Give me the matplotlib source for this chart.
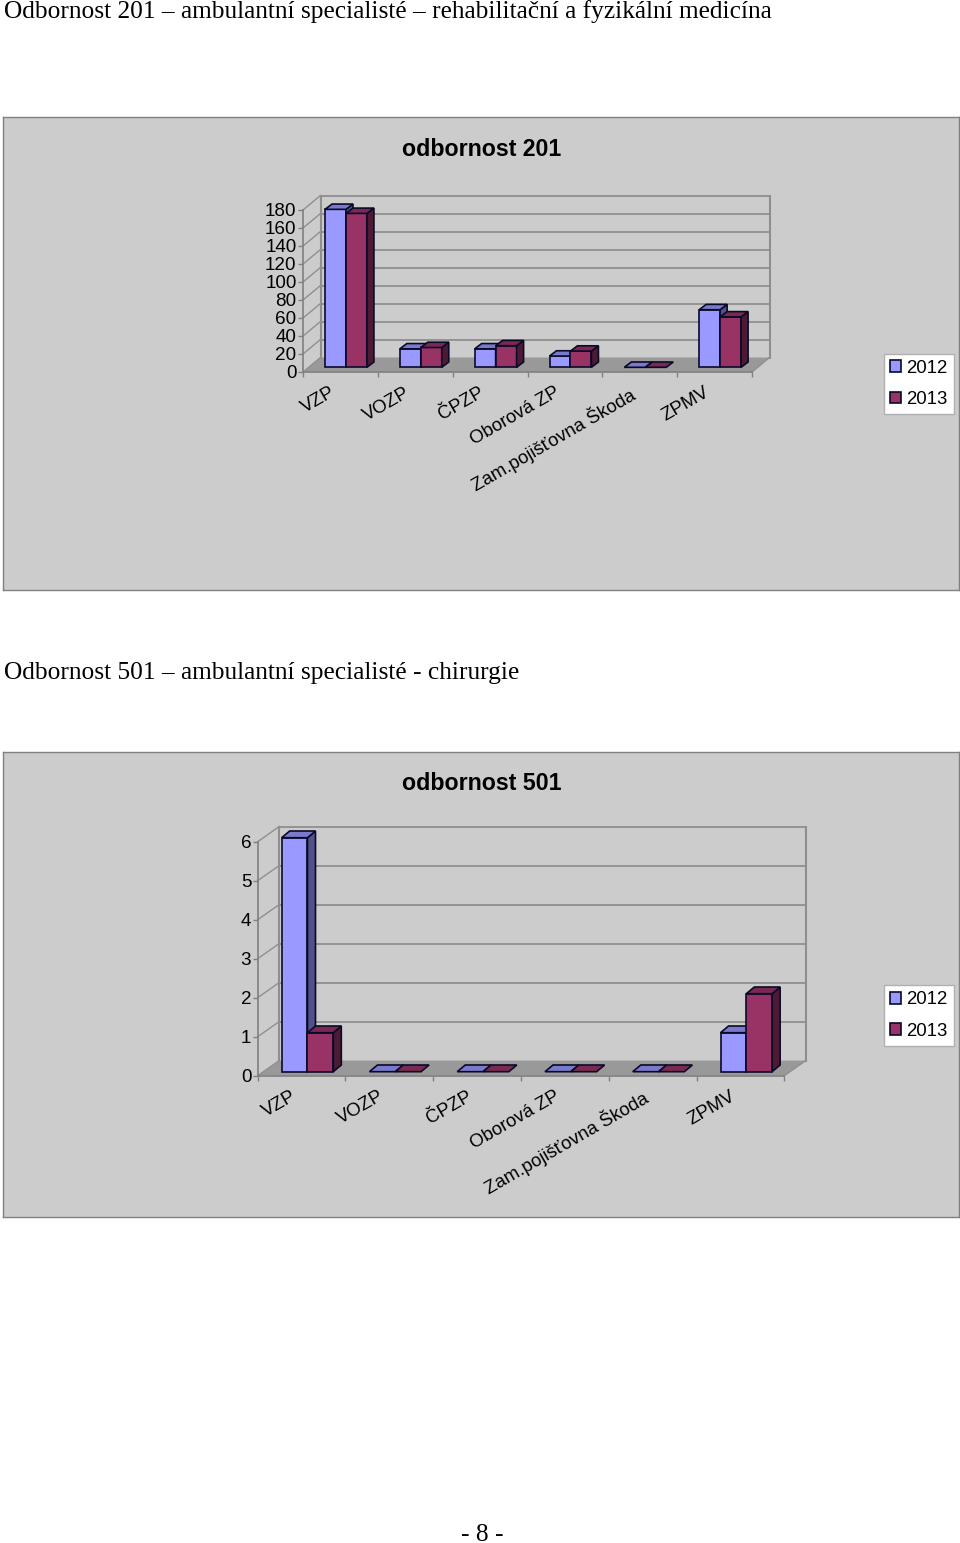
import matplotlib
matplotlib.use('Agg')
import matplotlib.pyplot as plt
from matplotlib.patches import Polygon, Patch

W, H = 960, 1543

categories = ['VZP', 'VOZP', 'ČPZP', 'Oborová ZP', 'Zam.pojišťovna Škoda', 'ZPMV']
series_names = ['2012', '2013']

values_201_2012 = [175.5, 20.5, 20.5, 12.5, 0, 64]
values_201_2013 = [171, 22, 24, 18, 0, 56]
ticks_201 = [0, 20, 40, 60, 80, 100, 120, 140, 160, 180]

values_501_2012 = [6, 0, 0, 0, 0, 1]
values_501_2013 = [1, 0, 0, 0, 0, 2]
ticks_501 = [0, 1, 2, 3, 4, 5, 6]

front_cols = ['#9999ff', '#993366']
top_cols = ['#7a7acc', '#7a2952']
side_cols = ['#52528a', '#4d1a33']
edge_col = '#0a0a28'
line_col = '#8f8f8f'
bg_col = '#cccccc'

plt.rcParams['font.family'] = ['Liberation Sans', 'DejaVu Sans']


def box(fig, left, top, right, bottom, **kw):
    # pixel box (from top left of the page) to figure axes
    return fig.add_axes([left / W, 1 - bottom / H, (right - left) / W, (bottom - top) / H], **kw)


def chart(fig, panel, plot, title, title_y, vals, yticks, back, bar, legend_box, label_xy):
    pn = box(fig, *panel)
    pn.set_facecolor(bg_col)
    pn.set_xticks([])
    pn.set_yticks([])
    for s in pn.spines.values():
        s.set_color('#808080')
        s.set_linewidth(1)
    pn.text((482 - panel[0]) / (panel[2] - panel[0]), 1 - (title_y - panel[1]) / (panel[3] - panel[1]), title,
            transform=pn.transAxes, ha='center', va='center', fontsize=16.7, fontweight='bold', color='black')

    ax = box(fig, *plot)
    ax.patch.set_alpha(0)
    n = len(categories)
    ax.set_xlim(0, n)
    ax.set_ylim(0, yticks[-1])
    px_x = (plot[2] - plot[0]) / n
    px_y = (plot[3] - plot[1]) / yticks[-1]

    def at(x, v, dx, dy):
        return (x + dx / px_x, v + dy / px_y)

    bdx, bdy = back
    # floor
    ax.add_patch(Polygon([at(0, 0, 0, 0), at(n, 0, 0, 0), at(n, 0, bdx, bdy), at(0, 0, bdx, bdy)],
                         closed=True, fc='#999999', ec='none', zorder=1, clip_on=False))
    # walls and grid
    for t in yticks:
        x0, y0 = at(0, t, bdx, bdy)
        x1, y1 = at(n, t, bdx, bdy)
        ax.plot([0, x0], [t, y0], color=line_col, lw=1, zorder=1, clip_on=False)
        if t > 0:
            ax.plot([x0, x1], [y0, y1], color=line_col, lw=1.3, zorder=1, clip_on=False)
    xb0, yb0 = at(0, 0, bdx, bdy)
    xb1, yb1 = at(0, yticks[-1], bdx, bdy)
    ax.plot([xb0, xb1], [yb0, yb1], color=line_col, lw=1.5, zorder=1, clip_on=False)
    xb0, yb0 = at(n, 0, bdx, bdy)
    xb1, yb1 = at(n, yticks[-1], bdx, bdy)
    ax.plot([xb0, xb1], [yb0, yb1], color=line_col, lw=1.5, zorder=1, clip_on=False)
    ax.plot([n, xb0], [0, yb0], color=line_col, lw=1, zorder=1, clip_on=False)

    # bars
    off_x, off_y, dep_x, dep_y, bw, gap = bar
    for k, series in enumerate(vals):
        z = 3 + k
        for i, v in enumerate(series):
            x0, base = at(i + gap + k * bw, 0, off_x, off_y)
            x1 = x0 + bw
            top = base + v
            if v > 0:
                ax.bar(x0, v, bw, bottom=base, align='edge', color=front_cols[k], edgecolor=edge_col,
                       linewidth=1.2, zorder=z, clip_on=False)
                ax.add_patch(Polygon([(x1, base), at(x1, base, dep_x, dep_y), at(x1, top, dep_x, dep_y), (x1, top)],
                                     closed=True, fc=side_cols[k], ec=edge_col, lw=1.2, zorder=z, clip_on=False))
            ax.add_patch(Polygon([(x0, top), (x1, top), at(x1, top, dep_x, dep_y), at(x0, top, dep_x, dep_y)],
                                 closed=True, fc=top_cols[k], ec=edge_col, lw=1.2, zorder=z, clip_on=False))

    for s in ['top', 'right']:
        ax.spines[s].set_visible(False)
    for s in ['left', 'bottom']:
        ax.spines[s].set_color('#808080')
        ax.spines[s].set_linewidth(1.2)
    ax.set_yticks(yticks)
    ax.set_xticks(range(n + 1))
    ax.set_xticklabels([])
    ax.tick_params(axis='both', color='#808080', length=3.6, width=1, labelsize=13.6, pad=1)
    for i, lab in enumerate(categories):
        ax.annotate(lab, (i + 0.5, 0), xytext=label_xy, textcoords='offset pixels', rotation=30,
                    rotation_mode='anchor', ha='right', va='top', fontsize=13.4, color='black',
                    annotation_clip=False)

    handles = [Patch(fc=front_cols[k], ec=edge_col, lw=1.2) for k in range(2)]
    l, t, r, b = legend_box
    leg = fig.legend(handles, series_names, loc='center', fontsize=13.4,
                     bbox_to_anchor=((l + r) / 2 / W, 1 - (t + b) / 2 / H),
                     handlelength=0.6, handleheight=0.6, handletextpad=0.28, labelspacing=0.76,
                     borderpad=0.34, borderaxespad=0, fancybox=False, framealpha=1,
                     facecolor='white', edgecolor='#b0b0b0')
    leg.get_frame().set_linewidth(1)


fig = plt.figure(figsize=(W / 100, H / 100), dpi=100, facecolor='white')

chart(fig, (3, 117, 959, 590), (303, 210, 752, 372), 'odbornost 201', 150,
      [values_201_2012, values_201_2013], ticks_201, (17.5, 14.5),
      (5.4, 4.7, 7, 5.3, 0.28, 0.222), (885, 354, 953, 414), (-11, -12))

chart(fig, (3, 752, 959, 1217), (257.7, 841.7, 784.3, 1075.7), 'odbornost 501', 784,
      [values_501_2012, values_501_2013], ticks_501, (21.6, 15.2),
      (5.3, 4, 8, 6.7, 0.294, 0.213), (885, 985, 953, 1046), (-11, -12))

serif = ['Liberation Serif', 'DejaVu Serif']
fig.text(4 / W, 1 - 12 / H, 'Odbornost 201 – ambulantní specialisté – rehabilitační a fyzikální medicína',
         family=serif, fontsize=18.25, ha='left', va='center', color='black')
fig.text(4 / W, 1 - 673 / H, 'Odbornost 501 – ambulantní specialisté - chirurgie',
         family=serif, fontsize=18.25, ha='left', va='center', color='black')
fig.text(482 / W, 1 - 1535 / H, '- 8 -', family=serif, fontsize=18.25, ha='center', va='center', color='black')

fig.savefig('out.png', dpi=100)
